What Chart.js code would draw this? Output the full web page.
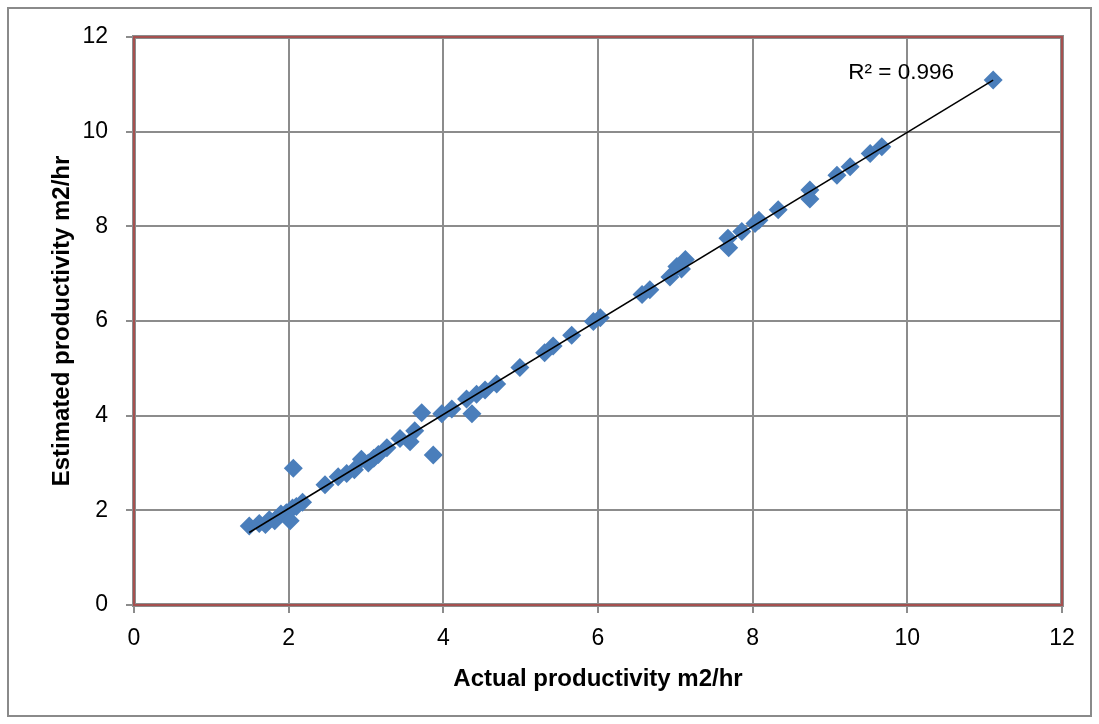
<!DOCTYPE html>
<html>
<head>
<meta charset="utf-8">
<script src="https://cdn.jsdelivr.net/npm/chart.js@4/dist/chart.umd.min.js"></script>
<style>
  html, body { margin: 0; padding: 0; background: #ffffff; }
  #wrap { width: 1099px; height: 724px; position: relative; }
</style>
</head>
<body>
<div id="wrap"><canvas id="c" width="1099" height="724"></canvas></div>
<script>
// ---- Data ----
const actualProductivity = [
  1.49, 1.62, 1.70, 1.75, 1.82, 1.90, 1.97, 2.02, 2.05, 2.10, 2.18, 2.06,
  2.47, 2.64, 2.75, 2.85, 2.94, 3.03, 3.10, 3.16, 3.27, 3.44, 3.57, 3.63,
  3.72, 3.87, 3.98, 4.11, 4.30, 4.37, 4.43, 4.54, 4.69, 4.99, 5.31, 5.42,
  5.66, 5.94, 6.03, 6.57, 6.67, 6.93, 7.02, 7.08, 7.13, 7.68, 7.69, 7.86,
  8.03, 8.08, 8.33, 8.74, 8.74, 9.09, 9.26, 9.52, 9.67, 11.11
];
const estimatedProductivity = [
  1.67, 1.72, 1.70, 1.80, 1.78, 1.92, 1.95, 1.78, 2.05, 2.08, 2.17, 2.89,
  2.54, 2.71, 2.78, 2.86, 3.08, 3.00, 3.10, 3.18, 3.32, 3.52, 3.45, 3.68,
  4.06, 3.17, 4.04, 4.14, 4.35, 4.04, 4.45, 4.54, 4.67, 5.02, 5.33, 5.47,
  5.70, 5.99, 6.07, 6.56, 6.66, 6.93, 7.15, 7.10, 7.30, 7.75, 7.55, 7.89,
  8.06, 8.13, 8.35, 8.77, 8.58, 9.08, 9.26, 9.54, 9.68, 11.09
];
const xTickValues = [0, 2, 4, 6, 8, 10, 12];
const yTickValues = [0, 2, 4, 6, 8, 10, 12];
const xTitle = 'Actual productivity m2/hr';
const yTitle = 'Estimated productivity m2/hr';
const r2Label = 'R\u00B2 = 0.996';

// ---- Derived: scatter points and least-squares trend line ----
const points = actualProductivity.map((x, i) => ({ x: x, y: estimatedProductivity[i] }));
const n = points.length;
const mx = actualProductivity.reduce((a, b) => a + b, 0) / n;
const my = estimatedProductivity.reduce((a, b) => a + b, 0) / n;
let sxy = 0, sxx = 0;
for (let i = 0; i < n; i++) {
  sxy += (actualProductivity[i] - mx) * (estimatedProductivity[i] - my);
  sxx += (actualProductivity[i] - mx) ** 2;
}
const slope = sxy / sxx;
const intercept = my - slope * mx;
const xMin = Math.min(...actualProductivity);
const xMax = Math.max(...actualProductivity);
const trend = [
  { x: xMin, y: intercept + slope * xMin },
  { x: xMax, y: intercept + slope * xMax }
];

const FONT = '"Liberation Sans", Arial, sans-serif';

const framePlugin = {
  id: 'frames',
  beforeDraw(chart) {
    const ctx = chart.ctx;
    ctx.save();
    ctx.fillStyle = '#ffffff';
    ctx.fillRect(0, 0, chart.width, chart.height);
    ctx.strokeStyle = '#8a8a8a';
    ctx.lineWidth = 2;
    ctx.strokeRect(8, 8, 1083, 708);
    ctx.restore();
  },
  beforeDatasetsDraw(chart) {
    const ctx = chart.ctx;
    const a = chart.chartArea;
    ctx.save();
    ctx.strokeStyle = '#8c8c8c';
    ctx.lineWidth = 4;
    ctx.strokeRect(a.left, a.top, a.right - a.left, a.bottom - a.top);
    ctx.strokeStyle = '#a5504f';
    ctx.lineWidth = 2;
    ctx.strokeRect(a.left, a.top, a.right - a.left, a.bottom - a.top);
    ctx.restore();
  },
  afterDatasetsDraw(chart) {
    const ctx = chart.ctx;
    const xs = chart.scales.x, ys = chart.scales.y;
    ctx.save();
    ctx.fillStyle = '#000000';
    ctx.font = '22.5px ' + FONT;
    ctx.textAlign = 'center';
    ctx.textBaseline = 'middle';
    ctx.fillText(r2Label, xs.getPixelForValue(9.92), ys.getPixelForValue(11.24));
    ctx.restore();
  }
};

new Chart(document.getElementById('c'), {
  type: 'scatter',
  data: {
    datasets: [
      {
        type: 'line',
        label: 'Linear trend',
        data: trend,
        borderColor: '#000000',
        borderWidth: 1.5,
        pointRadius: 0,
        fill: false
      },
      {
        label: 'Productivity',
        data: points,
        pointStyle: 'rectRot',
        pointRadius: 9.5,
        pointHoverRadius: 9.5,
        backgroundColor: '#4a7ebb',
        borderColor: '#4a7ebb',
        borderWidth: 0
      }
    ]
  },
  options: {
    responsive: false,
    animation: false,
    events: [],
    layout: { padding: { left: 8, top: 37, right: 37, bottom: 8 } },
    plugins: {
      legend: { display: false },
      tooltip: { enabled: false }
    },
    scales: {
      x: {
        type: 'linear',
        min: 0, max: 12,
        afterBuildTicks(scale) { scale.ticks = xTickValues.map(v => ({ value: v })); },
        afterFit(scale) { scale.height = 724 - 8 - 605; },
        grid: { color: '#8c8c8c', lineWidth: 2, tickLength: 8, tickColor: '#8c8c8c' },
        border: { display: false },
        ticks: { color: '#000000', font: { family: FONT, size: 23 }, padding: 12, maxRotation: 0 },
        title: {
          display: true, text: xTitle, color: '#000000',
          font: { family: FONT, size: 24, weight: 'bold' },
          padding: { top: 0, bottom: 22 }
        }
      },
      y: {
        type: 'linear',
        min: 0, max: 12,
        afterBuildTicks(scale) { scale.ticks = yTickValues.map(v => ({ value: v })); },
        afterFit(scale) { scale.width = 134 - 8; },
        grid: { color: '#8c8c8c', lineWidth: 2, tickLength: 8, tickColor: '#8c8c8c' },
        border: { display: false },
        ticks: { color: '#000000', font: { family: FONT, size: 23 }, padding: 18 },
        title: {
          display: true, text: yTitle, color: '#000000',
          font: { family: FONT, size: 24, weight: 'bold' },
          padding: { top: 40, bottom: 0 }
        }
      }
    }
  },
  plugins: [framePlugin]
});
</script>
</body>
</html>
